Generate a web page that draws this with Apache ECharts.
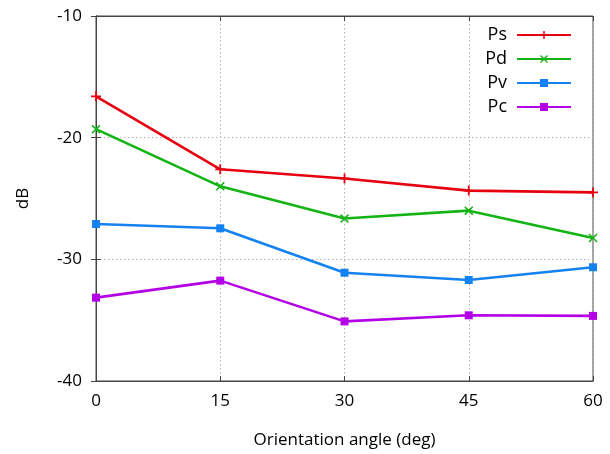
<!DOCTYPE html>
<html>
<head>
<meta charset="utf-8">
<script src="https://cdn.jsdelivr.net/npm/echarts@6/dist/echarts.min.js"></script>
<style>
  html, body { margin: 0; padding: 0; background: #fff; }
  #chart { width: 610px; height: 454px; }
</style>
</head>
<body>
<div id="chart"></div>
<script>
// Orientation angles (deg) and measured power levels (dB)
var angles = [0, 15, 30, 45, 60];
var seriesNames = ['Ps', 'Pd', 'Pv', 'Pc'];
var ps = [-16.6, -22.6, -23.35, -24.35, -24.5];
var pd = [-19.3, -24.0, -26.65, -26.0, -28.25];
var pv = [-27.1, -27.45, -31.1, -31.7, -30.65];
var pc = [-33.15, -31.75, -35.1, -34.6, -34.65];
var yTicks = [-40, -30, -20, -10];

var colors = ['#e60010', '#14b414', '#1482f0', '#b400e6'];
var plusPath = 'path://M4.1,0H5.9V10H4.1ZM0,4.1H10V5.9H0Z';
var crossPath = 'path://M0,1.2L1.2,0L5,3.8L8.8,0L10,1.2L6.2,5L10,8.8L8.8,10L5,6.2L1.2,10L0,8.8L3.8,5Z';
var symbols = [plusPath, crossPath, 'rect', 'rect'];
var symbolSizes = [10, 9, 8, 8];
var values = [ps, pd, pv, pc];

var font = '"Open Sans", "Noto Sans", sans-serif';
var frameColor = '#444';
var gridLine = { show: true, lineStyle: { color: '#b4b4b4', type: [1.5, 2.5], width: 1 } };
var innerTick = { show: true, inside: true, length: 5, lineStyle: { color: frameColor } };

function pairs(vals) {
  return angles.map(function (a, i) { return [a, vals[i]]; });
}

var chart = echarts.init(document.getElementById('chart'), null, { renderer: 'canvas' });

var series = seriesNames.map(function (name, i) {
  return {
    name: name,
    type: 'line',
    xAxisIndex: 0,
    yAxisIndex: 0,
    data: pairs(values[i]),
    symbol: symbols[i],
    symbolSize: symbolSizes[i],
    showAllSymbol: true,
    lineStyle: { color: colors[i], width: 2.6 },
    itemStyle: { color: colors[i], borderWidth: 0 },
    animation: false,
    z: 10 - i
  };
});

chart.setOption({
  backgroundColor: '#ffffff',
  animation: false,
  grid: {
    left: 96, right: 17, top: 16, bottom: 72,
    show: true, borderColor: frameColor, borderWidth: 1
  },
  legend: {
    orient: 'vertical',
    right: 33,
    top: 21,
    align: 'right',
    itemWidth: 54,
    itemHeight: 10,
    itemGap: 6,
    textStyle: { fontFamily: font, fontSize: 18, color: '#000', padding: [0, 5, 0, 0] },
    data: seriesNames
  },
  xAxis: [{
    type: 'value',
    position: 'bottom',
    min: 0, max: 60, interval: 15,
    name: 'Orientation angle (deg)',
    nameLocation: 'middle',
    nameGap: 51,
    nameTextStyle: { fontFamily: font, fontSize: 17, color: '#000' },
    axisLine: { show: true, lineStyle: { color: frameColor, width: 1 } },
    axisTick: innerTick,
    axisLabel: { fontFamily: font, fontSize: 17, color: '#000', margin: 12 },
    splitLine: gridLine
  }, {
    type: 'value',
    position: 'top',
    min: 0, max: 60, interval: 15,
    axisLine: { show: true, lineStyle: { color: frameColor, width: 1 } },
    axisTick: innerTick,
    axisLabel: { show: false },
    splitLine: { show: false }
  }],
  yAxis: [{
    type: 'value',
    position: 'left',
    min: yTicks[0], max: yTicks[yTicks.length - 1], interval: 10,
    name: 'dB',
    nameLocation: 'middle',
    nameGap: 64,
    nameRotate: 90,
    nameTextStyle: { fontFamily: font, fontSize: 17, color: '#000' },
    axisLine: { show: true, lineStyle: { color: frameColor, width: 1 } },
    axisTick: innerTick,
    axisLabel: { fontFamily: font, fontSize: 17, color: '#000', margin: 14 },
    splitLine: gridLine
  }, {
    type: 'value',
    position: 'right',
    min: yTicks[0], max: yTicks[yTicks.length - 1], interval: 10,
    axisLine: { show: true, lineStyle: { color: frameColor, width: 1 } },
    axisTick: innerTick,
    axisLabel: { show: false },
    splitLine: { show: false }
  }],
  series: series
});
</script>
</body>
</html>
